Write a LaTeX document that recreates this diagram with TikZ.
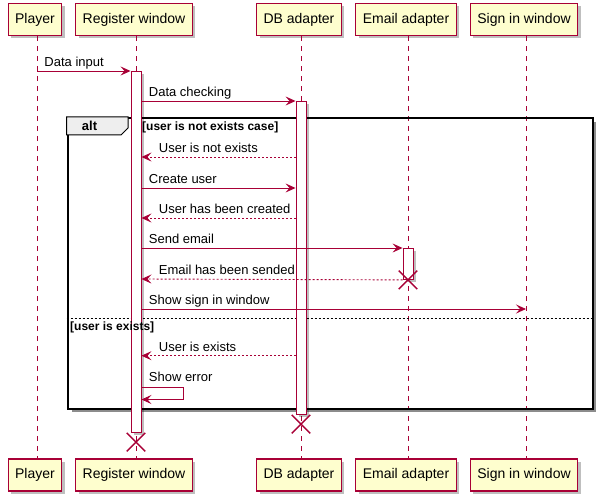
\documentclass[tikz,border=0pt]{standalone}
\usepackage{fontspec}
\setmainfont{Liberation Sans}
\usetikzlibrary{positioning,arrows.meta,shadows,shapes.misc}
\definecolor{umlred}{HTML}{A80036}
\definecolor{umlfill}{HTML}{FEFECE}
\definecolor{tabfill}{HTML}{EEEEEE}

\begin{document}
\begin{tikzpicture}[x=1pt,y=-1pt,
    part/.style={draw=umlred, fill=umlfill, line width=1.1pt, minimum height=32pt, inner xsep=7pt,
      font=\fontsize{14}{16}\selectfont,
      drop shadow={shadow xshift=3pt, shadow yshift=-3pt, opacity=0.25, fill=black}},
    life/.style={draw=umlred, line width=0.8pt, dash pattern=on 5pt off 5pt},
    actbar/.style={draw=umlred, fill=white, line width=0.9pt, minimum width=10pt, inner sep=0pt, anchor=north,
      drop shadow={shadow xshift=3pt, shadow yshift=-3pt, opacity=0.25, fill=black}},
    msg/.style={draw=umlred, line width=0.9pt, -{Stealth[length=10pt,width=9pt,inset=4pt]}},
    ret/.style={msg, dash pattern=on 2pt off 2pt},
    lbl/.style={anchor=base west, inner sep=0pt, font=\fontsize{13}{15}\selectfont},
    guard/.style={anchor=base west, inner sep=0pt, font=\bfseries\fontsize{12}{14}\selectfont},
    kill/.style={cross out, draw=umlred, line width=1.5pt, minimum size=17pt, inner sep=0pt}]
  \useasboundingbox (0,0) rectangle (602,500);

  % participants, top and bottom
  \node[part] (pTop) at (35,19.5) {Player};
  \node[part] (rTop) at (134,19.5) {Register window};
  \node[part] (dTop) at (299,19.5) {DB adapter};
  \node[part] (eTop) at (406,19.5) {Email adapter};
  \node[part] (sTop) at (524,19.5) {Sign in window};

  \node[part] (pBot) at (35,475) {Player};
  \node[part] (rBot) at (134,475) {Register window};
  \node[part] (dBot) at (299,475) {DB adapter};
  \node[part] (eBot) at (406,475) {Email adapter};
  \node[part] (sBot) at (524,475) {Sign in window};

  % lifelines
  \draw[life] ([xshift=2pt]pTop.south) -- ([xshift=2pt]pBot.north);
  \draw[life] ([xshift=2pt]rTop.south) -- ([xshift=2pt]rBot.north);
  \draw[life] ([xshift=2pt]dTop.south) -- ([xshift=2pt]dBot.north);
  \draw[life] ([xshift=2pt]eTop.south) -- ([xshift=2pt]eBot.north);
  \draw[life] ([xshift=2pt]sTop.south) -- ([xshift=2pt]sBot.north);

  % alt frame
  \draw[black!45, line width=3pt] (594.7,122) -- (594.7,410.7) -- (71.7,410.7);
  \node[draw, line width=1.9pt, minimum width=525pt, minimum height=290.7pt, inner sep=0pt,
    anchor=north west] (alt) at (66.7,117) {};
  \draw[fill=tabfill, line width=1pt] (alt.north west) -- ++(61.3,0) -- ++(0,11) -- ++(-7,7)
    -- ++(-54.3,0) -- cycle;
  \node[font=\bfseries\fontsize{13}{15}\selectfont, anchor=base] (altTag) at (89.5,131) {alt};
  \coordinate (sep) at (0,318);
  \draw[dash pattern=on 2pt off 2pt, line width=0.8pt] (alt.west |- sep) -- (alt.east |- sep);

  % activations
  \node[actbar, minimum height=361pt] (regAct) at (136,71) {};
  \node[actbar, minimum height=313pt] (dbAct) at (301,101) {};
  \node[actbar, minimum height=31pt] (mailAct) at (408,248) {};

  \node[guard] (g1) at (142,131) {[user is not exists case]};
  \node[guard] (g2) at (70,330) {[user is exists]};

  % messages
  \coordinate (m1) at (37,71);
  \coordinate (y3) at (0,157);
  \coordinate (y4) at (0,188);
  \coordinate (y5) at (0,218);
  \coordinate (y7) at (0,279);
  \coordinate (y8) at (0,309);
  \coordinate (y9) at (0,355.7);
  \coordinate (y10) at (0,387);

  \draw[msg] (m1) node[lbl, xshift=7pt, yshift=4.5pt] (t1) {Data input} -- (regAct.north west);
  \draw[msg] (regAct.east |- dbAct.north) node[lbl, xshift=7pt, yshift=4.5pt] (t2) {Data checking}
    -- (dbAct.north west);
  \draw[ret] (dbAct.west |- y3) -- (regAct.east |- y3)
    node[lbl, xshift=17pt, yshift=4.5pt] (t3) {User is not exists};
  \draw[msg] (regAct.east |- y4) node[lbl, xshift=7pt, yshift=4.5pt] (t4) {Create user}
    -- (dbAct.west |- y4);
  \draw[ret] (dbAct.west |- y5) -- (regAct.east |- y5)
    node[lbl, xshift=17pt, yshift=4.5pt] (t5) {User has been created};
  \draw[msg] (regAct.east |- mailAct.north) node[lbl, xshift=7pt, yshift=4.5pt] (t6) {Send email}
    -- (mailAct.north west);
  \draw[ret] (mailAct.south west) -- (regAct.east |- y7)
    node[lbl, xshift=17pt, yshift=4.5pt] (t7) {Email has been sended};
  \draw[msg] (regAct.east |- y8) node[lbl, xshift=7pt, yshift=4.5pt] (t8) {Show sign in window}
    -- ([xshift=2pt]sTop.south |- y8);
  \draw[ret] (dbAct.west |- y9) -- (regAct.east |- y9)
    node[lbl, xshift=17pt, yshift=4.5pt] (t9) {User is exists};
  \draw[msg] (regAct.east |- y10) node[lbl, xshift=7pt, yshift=5.5pt] (t10) {Show error}
    -- ++(42,0) -- ++(0,12.5) -- ++(-42,0);

  % destroyed
  \node[kill] (mailX) at (mailAct.south) {};
  \node[kill, below=0pt of dbAct.south] (dbX) {};
  \node[kill, below=0pt of regAct.south] (regX) {};
\end{tikzpicture}
\end{document}
